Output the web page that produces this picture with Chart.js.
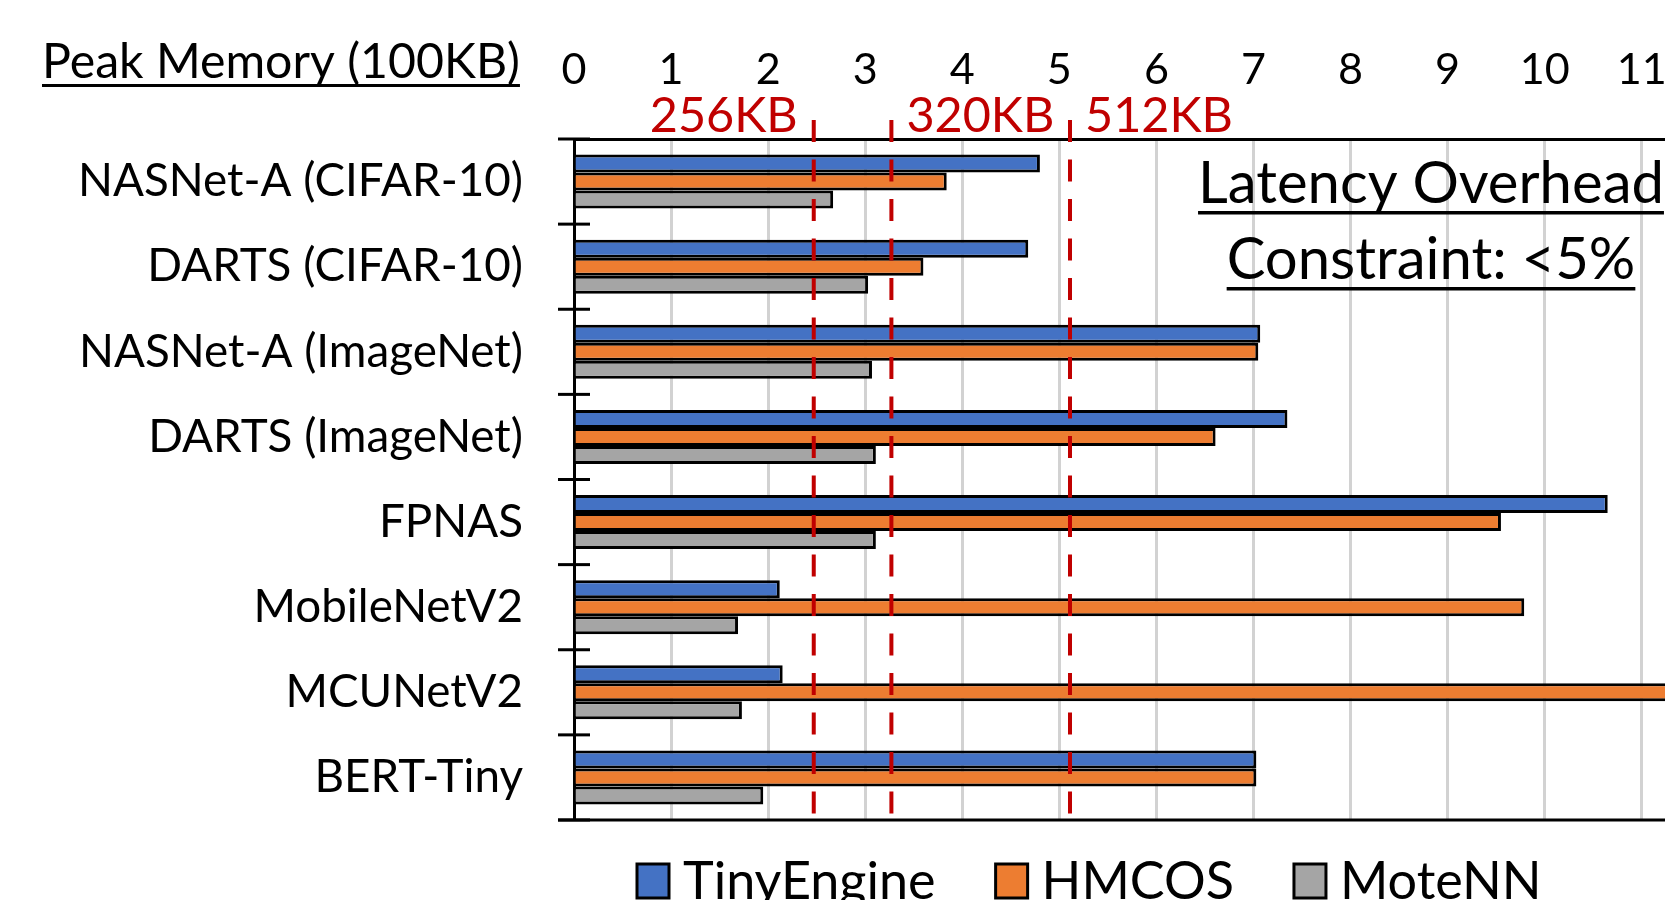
<!DOCTYPE html>
<html>
<head>
<meta charset="utf-8">
<script src="https://cdn.jsdelivr.net/npm/chart.js@4.4.1/dist/chart.umd.min.js"></script>
<style>
html,body{margin:0;padding:0;background:#fff;overflow:hidden;}
canvas{display:block;}
</style>
</head>
<body>
<canvas id="c" width="1665" height="900" style="width:1665px;height:900px"></canvas>
<script>
// ---------- data ----------
const categories = ['NASNet-A (CIFAR-10)', 'DARTS (CIFAR-10)', 'NASNet-A (ImageNet)', 'DARTS (ImageNet)',
                    'FPNAS', 'MobileNetV2', 'MCUNetV2', 'BERT-Tiny'];
const seriesNames = ['TinyEngine', 'HMCOS', 'MoteNN'];
const tinyEngine = [4.80, 4.68, 7.07, 7.35, 10.65, 2.12, 2.15, 7.03];
const hmcos      = [3.84, 3.60, 7.05, 6.61, 9.55, 9.79, 12.5, 7.03];
const moteNN     = [2.67, 3.03, 3.07, 3.11, 3.11, 1.69, 1.73, 1.95];
const xAxisMin = 0;
const xAxisMax = 11.24;
const xTickStep = 1;
const memoryLimitValues = [2.47, 3.27, 5.11];
const memoryLimitLabels = ['256KB', '320KB', '512KB'];
const memoryLimitLabelSide = ['left', 'right', 'right'];
const axisTitle = 'Peak Memory (100KB)';
const noteLines = ['Latency Overhead', 'Constraint: <5%'];

// ---------- style ----------
const seriesColors = ['#4472C4', '#ED7D31', '#A5A5A5'];
const RED = '#C00000';
const FAMILY = 'Lato, "Open Sans", sans-serif';
const mctx = document.createElement('canvas').getContext('2d');
function fitPx(text, targetWidth) {
  mctx.font = '100px ' + FAMILY;
  return 100 * targetWidth / mctx.measureText(text).width;
}
const fsCat = fitPx('NASNet-A (CIFAR-10)', 445);
const fsTick = fitPx('10', 50);
const fsRed = fitPx('256KB', 148);
const fsTitle = fitPx(axisTitle, 478);
const fsNote = fitPx(noteLines[0], 466);
const fsLegend = fitPx(seriesNames.join(''), 646);

const PLOT_TOP = 139, PLOT_LEFT = 574, PLOT_BOTTOM_PAD = 80;

const decor = {
  id: 'decor',
  afterDatasetsDraw(chart) {
    const {ctx, chartArea: a, scales: {x, y}} = chart;
    ctx.save();
    ctx.strokeStyle = '#000';
    ctx.lineWidth = 3;
    for (let i = 0; i <= categories.length; i++) {
      const py = y.getPixelForValue(i - 0.5);
      ctx.beginPath(); ctx.moveTo(a.left - 16, py); ctx.lineTo(a.left + 16, py); ctx.stroke();
    }
    ctx.beginPath(); ctx.moveTo(a.left - 16, a.bottom); ctx.lineTo(a.right, a.bottom); ctx.stroke();

    ctx.strokeStyle = RED;
    ctx.lineWidth = 4;
    ctx.setLineDash([22, 17.5]);
    memoryLimitValues.forEach(v => {
      const px = x.getPixelForValue(v);
      ctx.beginPath(); ctx.moveTo(px, a.top - 19); ctx.lineTo(px, a.bottom + 10); ctx.stroke();
    });
    ctx.setLineDash([]);
    ctx.fillStyle = RED;
    ctx.font = fsRed + 'px ' + FAMILY;
    ctx.textBaseline = 'alphabetic';
    memoryLimitValues.forEach((v, i) => {
      const px = x.getPixelForValue(v);
      const left = memoryLimitLabelSide[i] === 'left';
      ctx.textAlign = left ? 'right' : 'left';
      ctx.fillText(memoryLimitLabels[i], left ? px - 16 : px + 15, a.top - 7);
    });
    ctx.restore();
  },
  afterDraw(chart) {
    const {ctx} = chart;
    ctx.save();
    ctx.fillStyle = '#000';
    ctx.textBaseline = 'alphabetic';
    // axis title
    ctx.font = fsTitle + 'px ' + FAMILY;
    ctx.textAlign = 'left';
    ctx.fillText(axisTitle, 42, 78);
    const tw = ctx.measureText(axisTitle).width;
    ctx.fillRect(42, 84, tw, 3);
    // note
    ctx.font = fsNote + 'px ' + FAMILY;
    ctx.textAlign = 'center';
    const cx = 1431;
    [[203, 211], [279, 287]].forEach(([base, ul], i) => {
      ctx.fillText(noteLines[i], cx, base);
      const w = ctx.measureText(noteLines[i]).width;
      ctx.fillRect(cx - w / 2, ul, w, 3.5);
    });
    // legend
    ctx.font = fsLegend + 'px ' + FAMILY;
    ctx.textAlign = 'left';
    let lx = 637;
    chart.data.datasets.forEach(ds => {
      ctx.fillStyle = ds.backgroundColor;
      ctx.fillRect(lx, 864, 32, 34);
      ctx.strokeStyle = '#000';
      ctx.lineWidth = 3;
      ctx.strokeRect(lx, 864, 32, 34);
      ctx.fillStyle = '#000';
      ctx.fillText(ds.label, lx + 46, 899);
      lx += 46 + ctx.measureText(ds.label).width + 60;
    });
    ctx.restore();
  }
};

const seriesValues = [tinyEngine, hmcos, moteNN];
new Chart(document.getElementById('c'), {
  type: 'bar',
  data: {
    labels: categories,
    datasets: seriesNames.map((n, i) => ({
      label: n,
      data: seriesValues[i],
      backgroundColor: seriesColors[i],
      borderColor: '#000',
      borderWidth: 3,
      categoryPercentage: 0.635,
      barPercentage: 1.0
    }))
  },
  options: {
    indexAxis: 'y',
    responsive: false,
    animation: false,
    layout: {padding: {left: 0, right: 0, top: 0, bottom: PLOT_BOTTOM_PAD}},
    plugins: {legend: {display: false}, tooltip: {enabled: false}, title: {display: false}},
    scales: {
      x: {
        position: 'top',
        min: xAxisMin,
        max: xAxisMax,
        ticks: {
          stepSize: xTickStep,
          includeBounds: false,
          autoSkip: false,
          maxRotation: 0,
          color: '#000',
          font: {family: FAMILY, size: fsTick},
          padding: PLOT_TOP - 70.5 - 0.6 * fsTick
        },
        grid: {color: '#d2d2d2', lineWidth: 3, drawTicks: false},
        border: {color: '#000', width: 3},
        afterFit(s) { s.height = PLOT_TOP; s.paddingLeft = 0; s.paddingRight = 0; }
      },
      y: {
        ticks: {
          autoSkip: false,
          color: '#000',
          font: {family: FAMILY, size: fsCat},
          padding: 51
        },
        grid: {display: false, drawTicks: false},
        border: {color: '#000', width: 3},
        afterFit(s) { s.width = PLOT_LEFT; s.paddingTop = 0; s.paddingBottom = 0; }
      }
    }
  },
  plugins: [decor]
});
</script>
</body>
</html>
